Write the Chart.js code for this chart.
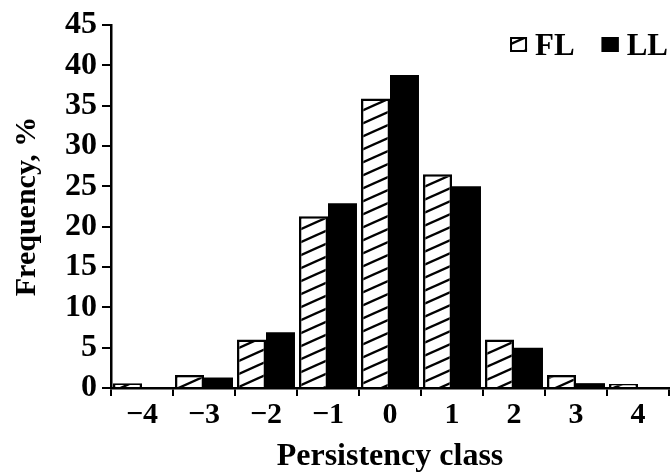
<!DOCTYPE html>
<html>
<head>
<meta charset="utf-8">
<script src="https://cdn.jsdelivr.net/npm/chart.js@4.4.0/dist/chart.umd.min.js"></script>
<style>
  html, body { margin: 0; padding: 0; background: #fff; }
  #wrap { width: 672px; height: 473px; }
</style>
</head>
<body>
<div id="wrap"><canvas id="chart" width="672" height="473"></canvas></div>
<script>
// Datos
const categories = ['\u22124', '\u22123', '\u22122', '\u22121', '0', '1', '2', '3', '4'];
const seriesNames = ['FL', 'LL'];
const flValues = [0.6, 1.6, 6.0, 21.3, 35.9, 26.5, 6.0, 1.6, 0.5];
const llValues = [0, 1.3, 6.9, 22.9, 38.8, 25.0, 5.0, 0.6, 0];
const yTicks = [0, 5, 10, 15, 20, 25, 30, 35, 40, 45];

const FONT = '"Liberation Serif", "Times New Roman", serif';

// Patrón rayado (/) para FL
function makeHatch() {
    const w = 29, h = 13;
    const c = document.createElement('canvas');
    c.width = w; c.height = h;
    const ctx = c.getContext('2d');
    ctx.fillStyle = '#fff';
    ctx.fillRect(0, 0, w, h);
    ctx.strokeStyle = '#000';
    ctx.lineWidth = 2.4;
    for (let k = -2; k <= 2; k++) {
        ctx.beginPath();
        ctx.moveTo(-w, 2 * h + k * h);
        ctx.lineTo(2 * w, -h + k * h);
        ctx.stroke();
    }
    return ctx.createPattern(c, 'repeat');
}

const hatch = makeHatch();

// Leyenda dibujada arriba a la derecha
const legendPlugin = {
    id: 'cornerLegend',
    afterDraw(chart) {
        const ctx = chart.ctx;
        const area = chart.chartArea;
        ctx.save();
        ctx.font = 'bold 31px ' + FONT;
        ctx.textBaseline = 'alphabetic';
        ctx.fillStyle = '#000';
        let x = area.right - 1;
        const baseline = 55;
        const boxW = 17, boxH = 15, boxTop = 37;
        const items = chart.data.datasets.slice().reverse();
        items.forEach((ds) => {
            const tw = ctx.measureText(ds.label).width;
            x -= tw;
            ctx.fillStyle = '#000';
            ctx.fillText(ds.label, x, baseline);
            x -= 8 + boxW;
            ctx.fillStyle = ds.backgroundColor;
            ctx.fillRect(x, boxTop, boxW, boxH);
            ctx.lineWidth = 2;
            ctx.strokeStyle = '#000';
            ctx.strokeRect(x + 1, boxTop + 1, boxW - 2, boxH - 2);
            x -= 27;
        });
        ctx.restore();
    }
};

const ctx = document.getElementById('chart').getContext('2d');
new Chart(ctx, {
    type: 'bar',
    data: {
        labels: categories,
        datasets: [
            {
                label: seriesNames[0],
                data: flValues,
                backgroundColor: hatch,
                borderColor: '#000',
                borderWidth: 2.5,
                categoryPercentage: 0.935,
                barPercentage: 1.0
            },
            {
                label: seriesNames[1],
                data: llValues,
                backgroundColor: '#000',
                borderColor: '#000',
                borderWidth: 0,
                categoryPercentage: 0.935,
                barPercentage: 1.0
            }
        ]
    },
    options: {
        responsive: false,
        animation: false,
        layout: {
            padding: { top: 25, right: 3, bottom: 0, left: 0 }
        },
        plugins: {
            legend: { display: false },
            title: { display: false },
            tooltip: { enabled: false }
        },
        scales: {
            x: {
                afterFit: (scale) => { scale.height = 85; },
                grid: {
                    display: true,
                    drawOnChartArea: false,
                    drawTicks: true,
                    tickLength: 8,
                    lineWidth: 2,
                    color: '#000',
                    offset: true
                },
                border: { display: true, color: '#000', width: 2.5 },
                ticks: {
                    color: '#000',
                    padding: 1,
                    maxRotation: 0,
                    autoSkip: false,
                    font: { family: FONT, size: 30, weight: 'bold' }
                },
                title: {
                    display: true,
                    text: 'Persistency class',
                    color: '#000',
                    padding: { top: 0, bottom: 0 },
                    font: { family: FONT, size: 32, weight: 'bold', lineHeight: 1 }
                }
            },
            y: {
                min: 0,
                max: 45,
                afterFit: (scale) => { scale.width = 111; },
                afterBuildTicks: (scale) => {
                    scale.ticks = yTicks.map(v => ({ value: v }));
                },
                grid: {
                    display: true,
                    drawOnChartArea: false,
                    drawTicks: true,
                    tickLength: 9,
                    lineWidth: 2,
                    color: '#000'
                },
                border: { display: true, color: '#000', width: 2.5 },
                ticks: {
                    color: '#000',
                    padding: 5,
                    autoSkip: false,
                    font: { family: FONT, size: 32, weight: 'bold' }
                },
                title: {
                    display: true,
                    text: 'Frequency, %',
                    color: '#000',
                    padding: { top: 9, bottom: 0 },
                    font: { family: FONT, size: 30, weight: 'bold' }
                }
            }
        }
    },
    plugins: [legendPlugin]
});
</script>
</body>
</html>
